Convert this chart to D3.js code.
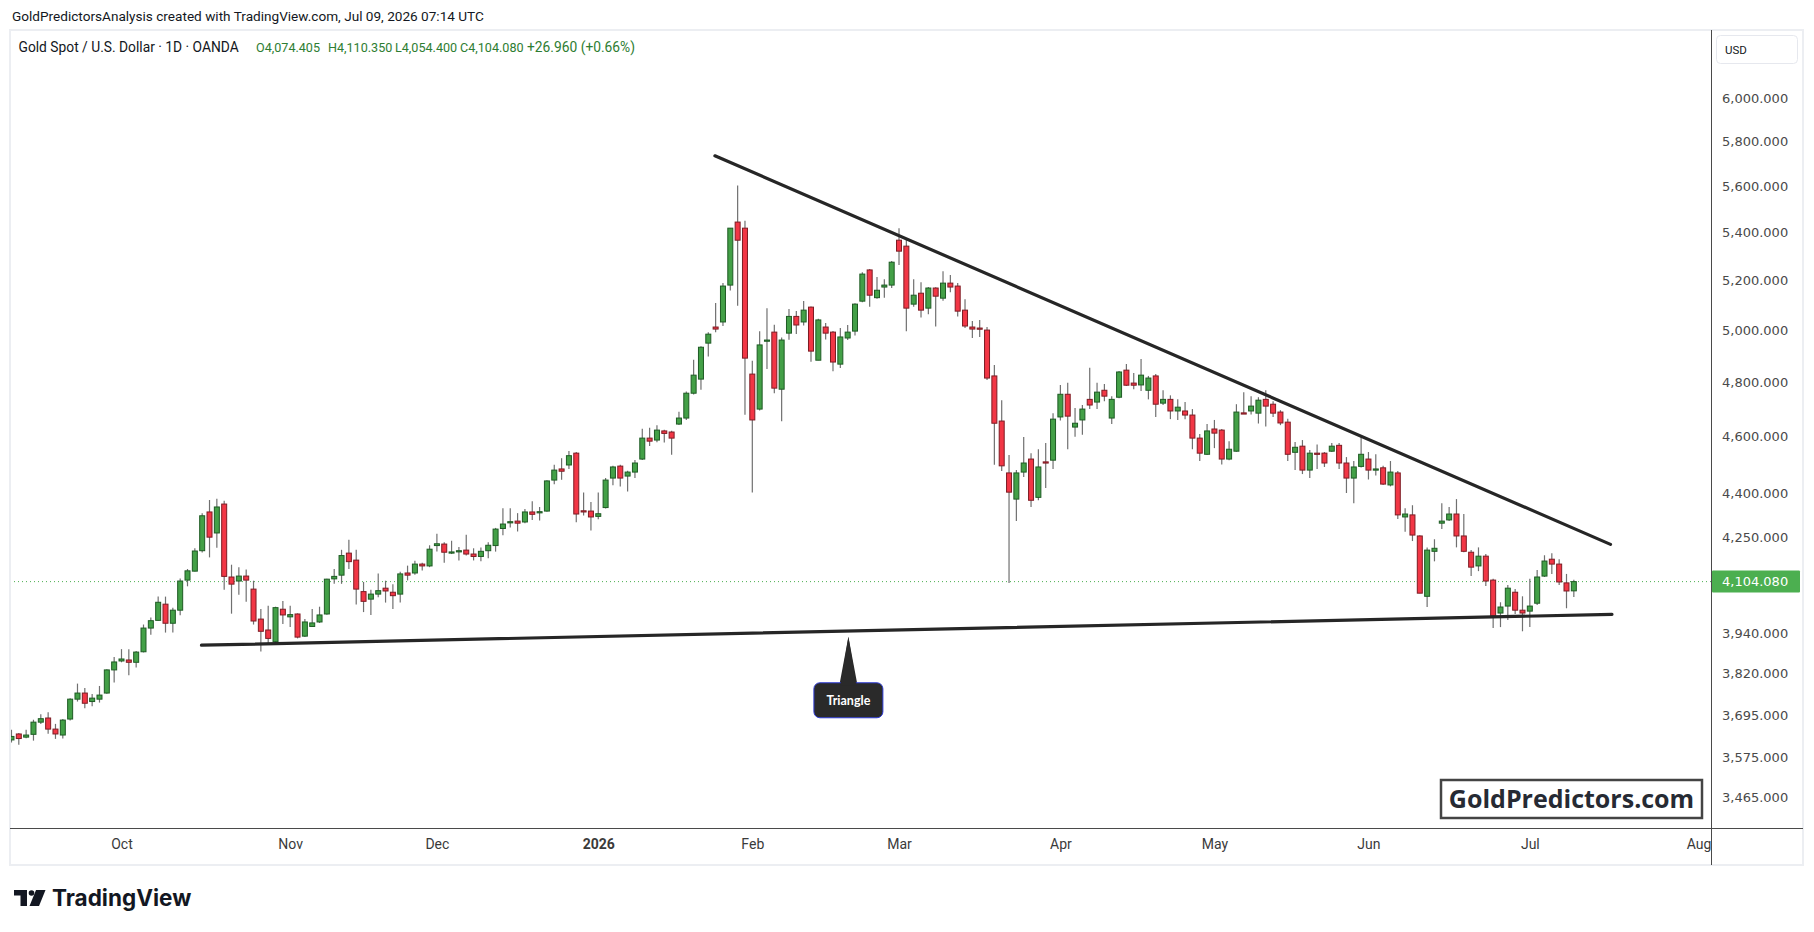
<!DOCTYPE html>
<html>
<head>
<meta charset="utf-8">
<script src="https://cdn.jsdelivr.net/npm/d3@7"></script>
<style>
  body { margin: 0; background: #fff; }
  svg { display: block; }
</style>
</head>
<body>
<svg id="chart" width="1814" height="932"></svg>
<script>
// daily candles, mid Sep 2025 -> Jul 09 2026, one entry per trading day (bar index)
const opens = [3624,3641,3632,3640,3675,3687,3655,3638,3684,3742,3760,3735,3742,3760,3829,
  3856,3859,3852,3884,3957,3981,4032,3972,4013,4109,4138,4205,4335,4264,4362,4119,4106,4122,4080,3985,3951,3915,4016,
  3992,4001,3932,3962,3976,4001,4113,4125,4197,4174,4072,4048,4064,4083,4070,4064,4132,4132,4161,4155,
  4222,4227,4198,4202,4207,4194,4186,4205,4222,4279,4300,4304,4301,4335,4333,4338,4445,4484,4498,4540,4339,4338,
  4320,4350,4452,4494,4459,4473,4519,4594,4587,4620,4616,4645,4667,4759,4812,4950,5013,5033,5181,5444,5418,
  4831,4700,4958,4993,4774,4989,5055,5033,5092,4884,5013,4993,4869,4970,4997,5116,5243,5130,5173,5181,
  5367,5342,5104,5148,5088,5169,5128,5189,5177,5080,5013,5009,5001,4824,4656,4470,4379,4473,4519,4385,4509,4515,
  4671,4755,4634,4660,4736,4726,4770,4667,4744,4846,4797,4790,4770,4824,4722,4736,4693,4693,4678,4594,4536,
  4627,4623,4519,4547,4686,4693,4685,4736,4718,4689,4652,4543,4565,4480,4540,4540,4547,4568,4505,4452,4493,
  4519,4480,4488,4428,4470,4318,4325,4254,4057,4203,4297,4308,4328,4254,4200,4155,4187,4109,4004,4026,4070,4013,
  4010,4035,4122,4177,4161,4100,4074.405];
const highs = [3653,3644,3653,3682,3698,3704,3670,3684,3745,3788,3775,3757,3781,3831,3868,
  3892,3892,3886,3968,3990,4056,4056,4021,4114,4145,4213,4331,4376,4380,4373,4159,4151,4143,4107,4017,4027,4024,4042,
  4027,4003,3985,4017,4024,4113,4145,4208,4241,4208,4103,4078,4130,4107,4096,4136,4156,4172,4165,4223,
  4261,4233,4238,4217,4258,4213,4216,4233,4281,4348,4348,4331,4345,4372,4352,4444,4499,4522,4548,4544,4402,4369,
  4402,4452,4495,4499,4478,4516,4628,4632,4641,4624,4621,4690,4765,4886,4938,4992,5109,5189,5418,5603,5450,
  4882,4996,5088,5022,4972,5085,5077,5117,5095,5046,5029,4997,5009,5021,5108,5234,5247,5214,5205,5280,
  5418,5376,5205,5193,5173,5172,5238,5222,5189,5124,5037,5041,5013,4866,4733,4533,4480,4598,4540,4554,4576,4685,
  4790,4798,4704,4715,4855,4798,4794,4748,4843,4869,4835,4889,4824,4831,4770,4751,4736,4726,4700,4609,4645,
  4660,4627,4583,4718,4763,4748,4744,4770,4729,4696,4664,4580,4587,4551,4571,4544,4576,4576,4526,4512,4599,
  4544,4536,4495,4512,4477,4348,4358,4256,4216,4243,4365,4352,4379,4328,4207,4216,4194,4113,4038,4093,4080,4057,
  4113,4142,4190,4197,4177,4129,4110.35];
const lows = [3617,3610,3629,3622,3670,3642,3627,3628,3680,3735,3715,3721,3732,3758,3791,
  3852,3813,3836,3882,3936,3980,3943,3943,3997,4089,4137,4199,4183,4215,4078,4002,4062,4040,3968,3885,3905,3910,3970,
  3960,3925,3929,3960,3973,3999,4097,4097,4145,4031,4007,3998,4054,4037,4017,4037,4108,4126,4140,4151,
  4202,4165,4194,4173,4189,4173,4170,4180,4202,4256,4282,4269,4297,4308,4306,4336,4430,4446,4484,4300,4323,4272,
  4310,4347,4427,4423,4405,4452,4516,4566,4579,4578,4534,4642,4660,4754,4772,4898,4992,5017,5159,5098,4679,
  4402,4695,4850,4759,4655,4963,4986,5019,4878,4884,4964,4842,4854,4962,4980,5112,5094,5126,5130,5169,
  5263,4996,5094,5051,5064,5015,5118,5152,5055,5009,4970,4974,4809,4499,4477,4100,4304,4456,4352,4375,4417,4484,
  4658,4554,4599,4606,4700,4700,4729,4645,4740,4786,4774,4767,4736,4671,4715,4663,4660,4663,4554,4512,4533,
  4558,4500,4515,4545,4683,4680,4647,4636,4671,4641,4512,4480,4466,4452,4484,4491,4544,4484,4400,4365,4489,
  4447,4461,4428,4423,4311,4268,4237,4067,4023,4170,4277,4304,4216,4200,4122,4138,4090,3957,3960,3982,4001,3947,
  3960,4029,4119,4129,4093,4019,4054.4];
const closes = [3634,3628,3638,3675,3685,3655,3641,3681,3742,3760,3730,3745,3754,3829,3853,
  3862,3852,3883,3957,3980,4038,3972,4013,4106,4139,4204,4322,4250,4352,4121,4096,4122,4109,3979,3947,3925,4021,3998,
  3999,3929,3976,3973,3998,4112,4121,4189,4169,4080,4041,4064,4075,4074,4059,4129,4125,4161,4155,4210,
  4228,4200,4201,4205,4194,4186,4203,4223,4277,4294,4302,4297,4335,4327,4336,4442,4480,4476,4531,4328,4336,4318,
  4329,4445,4491,4452,4473,4505,4594,4583,4623,4611,4594,4667,4759,4827,4934,4985,5005,5177,5418,5367,4892,
  4660,4943,4962,4778,4962,5055,5021,5080,4919,5041,4989,4877,4974,4993,5104,5226,5140,5160,5181,5275,
  5321,5088,5140,5080,5169,5136,5189,5173,5076,5017,5005,5005,4816,4648,4495,4403,4470,4505,4375,4491,4507,4663,
  4755,4674,4648,4700,4715,4763,4748,4736,4839,4789,4789,4827,4816,4718,4736,4693,4707,4678,4594,4540,4620,
  4612,4519,4554,4689,4684,4711,4733,4711,4685,4649,4536,4561,4480,4540,4539,4505,4565,4505,4452,4491,4536,
  4480,4484,4431,4473,4325,4328,4257,4067,4207,4213,4304,4328,4254,4203,4151,4187,4106,3995,4023,4083,4013,4004,
  4026,4119,4171,4161,4103,4074,4104.08];

// time axis labels and the bar they sit on
const monthLabels = ["Oct", "Nov", "Dec", "2026", "Feb", "Mar", "Apr", "May", "Jun", "Jul", "Aug"];
const monthBars = [15, 38, 58, 80, 101, 121, 143, 164, 185, 207, 230];

// price axis labels
const priceTicks = [6000, 5800, 5600, 5400, 5200, 5000, 4800, 4600, 4400, 4250, 3940, 3820, 3695, 3575, 3465];
const lastPrice = 4104.08;

// legend values (last bar)
const legendKeys = ["O", "H", "L", "C"];
const legendVals = ["4,074.405", "4,110.350", "4,054.400", "4,104.080"];
const legendChange = "+26.960 (+0.66%)";

// drawings: [bar, price]
const upperLine = [[95.9, 5735], [218.0, 4226]];
const lowerLine = [[25.9, 3904], [218.2, 4000]];
const calloutTip = [114.1, 3930];

const svg = d3.select('#chart');
const W = 1814, H = 932;
const plot = { left: 10, right: 1711, top: 31, bottom: 828 };

const x = d3.scaleLinear().domain([-0.2, 231.7]).range([plot.left, plot.right]);
const y = d3.scaleLog().domain([3381.7, 6325.9]).range([plot.bottom, plot.top]);

const upFill = '#43a047', upLine = '#1e5b24';
const dnFill = '#f23645', dnLine = '#7d1c24';
const legendGreen = '#2e7d32';

svg.append('rect').attr('width', W).attr('height', H).attr('fill', '#ffffff');

// top caption
svg.append('text')
  .attr('x', 12).attr('y', 21)
  .style('font', '13.6px Roboto, "Open Sans", sans-serif')
  .attr('fill', '#131722')
  .text('GoldPredictorsAnalysis created with TradingView.com, Jul 09, 2026 07:14 UTC');

// pane frame
svg.append('rect')
  .attr('x', 10).attr('y', 30).attr('width', 1793).attr('height', 835)
  .attr('fill', 'none').attr('stroke', '#eceef2').attr('stroke-width', 2);

svg.append('clipPath').attr('id', 'plotClip')
  .append('rect').attr('x', plot.left + 1).attr('y', plot.top)
  .attr('width', plot.right - plot.left - 1).attr('height', plot.bottom - plot.top);

const g = svg.append('g').attr('clip-path', 'url(#plotClip)');

// last price dotted line
g.append('line')
  .attr('x1', plot.left).attr('x2', plot.right)
  .attr('y1', y(lastPrice)).attr('y2', y(lastPrice))
  .attr('stroke', '#4caf50').attr('stroke-width', 1).attr('stroke-dasharray', '1,3');

const bars = d3.range(opens.length).map(i => ({ i: i, o: opens[i], h: highs[i], l: lows[i], c: closes[i] }));

// wicks
g.selectAll('.wick')
  .data(bars)
  .enter()
  .append('line')
  .classed('wick', true)
  .attr('x1', d => x(d.i)).attr('x2', d => x(d.i))
  .attr('y1', d => y(d.h)).attr('y2', d => y(d.l))
  .attr('stroke', '#707070').attr('stroke-width', 1.2);

// bodies
g.selectAll('.body')
  .data(bars)
  .enter()
  .append('rect')
  .classed('body', true)
  .attr('x', d => x(d.i) - 2.5)
  .attr('width', 5)
  .attr('y', d => y(Math.max(d.o, d.c)))
  .attr('height', d => Math.max(1.2, Math.abs(y(d.o) - y(d.c))))
  .attr('fill', d => d.c >= d.o ? upFill : dnFill)
  .attr('stroke', d => d.c >= d.o ? upLine : dnLine)
  .attr('stroke-width', 1);

// triangle trend lines
[upperLine, lowerLine].forEach(ln => {
  g.append('line')
    .attr('x1', x(ln[0][0])).attr('y1', y(ln[0][1]))
    .attr('x2', x(ln[1][0])).attr('y2', y(ln[1][1]))
    .attr('stroke', '#262626').attr('stroke-width', 3.2).attr('stroke-linecap', 'round');
});

// "Triangle" callout
const tx = x(calloutTip[0]), ty = y(calloutTip[1]);
const box = { w: 69, h: 35, top: ty + 46 };
const callout = svg.append('g');
callout.append('path')
  .attr('d', `M${tx},${ty} L${tx + 9},${box.top + 2} L${tx - 9},${box.top + 2} Z`)
  .attr('fill', '#2a2a2a');
callout.append('rect')
  .attr('x', tx - box.w / 2).attr('y', box.top)
  .attr('width', box.w).attr('height', box.h).attr('rx', 6)
  .attr('fill', '#2a2a2a').attr('stroke', '#2f3cd6').attr('stroke-width', 1);
callout.append('path')
  .attr('d', `M${tx},${ty} L${tx + 8},${box.top + 3} L${tx - 8},${box.top + 3} Z`)
  .attr('fill', '#2a2a2a');
callout.append('text')
  .attr('x', tx).attr('y', box.top + box.h / 2 + 4.5)
  .attr('text-anchor', 'middle')
  .style('font', 'bold 12.5px Lato, "Open Sans", sans-serif')
  .attr('fill', '#ffffff')
  .text('Triangle');

// GoldPredictors.com stamp
svg.append('rect')
  .attr('x', 1441).attr('y', 780).attr('width', 261).attr('height', 38)
  .attr('fill', '#ffffff').attr('stroke', '#444444').attr('stroke-width', 2.5);
svg.append('text')
  .attr('x', 1571.5).attr('y', 808)
  .attr('text-anchor', 'middle')
  .style('font', 'bold 25px "Open Sans", Lato, sans-serif')
  .attr('fill', '#262a33')
  .text('GoldPredictors.com');

// legend row
svg.append('text')
  .attr('x', 18.5).attr('y', 52)
  .style('font', '13.8px Roboto, "Open Sans", sans-serif')
  .attr('fill', '#131722')
  .text('Gold Spot / U.S. Dollar · 1D · OANDA');
const legendX = [256, 328, 395, 460];
legendKeys.forEach((k, i) => {
  svg.append('text')
    .attr('x', legendX[i]).attr('y', 52)
    .style('font', '12.6px Roboto, "Open Sans", sans-serif')
    .attr('fill', legendGreen)
    .text(k + legendVals[i]);
});
svg.append('text')
  .attr('x', 527).attr('y', 52)
  .style('font', '13.8px Roboto, "Open Sans", sans-serif')
  .attr('fill', legendGreen)
  .text(legendChange);

// axis frame lines
svg.append('line').attr('x1', plot.right + 0.5).attr('x2', plot.right + 0.5)
  .attr('y1', 30).attr('y2', 865).attr('stroke', '#4a4a4a').attr('stroke-width', 1);
svg.append('line').attr('x1', 10).attr('x2', 1803)
  .attr('y1', plot.bottom + 0.5).attr('y2', plot.bottom + 0.5).attr('stroke', '#4a4a4a').attr('stroke-width', 1);

// price axis
const yAxis = d3.axisRight(y)
  .tickValues(priceTicks)
  .tickSize(0)
  .tickPadding(11)
  .tickFormat(d3.format(',.3f'));
const yg = svg.append('g').attr('transform', `translate(${plot.right},0)`).call(yAxis);
yg.select('.domain').remove();
yg.selectAll('text')
  .style('font', '13px "DejaVu Sans", Verdana, sans-serif')
  .attr('fill', '#4a4a4a');

// USD badge
svg.append('rect')
  .attr('x', 1716.5).attr('y', 35.5).attr('width', 81).attr('height', 28).attr('rx', 4)
  .attr('fill', '#ffffff').attr('stroke', '#e6e8ee');
svg.append('text')
  .attr('x', 1725).attr('y', 53.5)
  .style('font', '11.5px Roboto, sans-serif')
  .attr('fill', '#131722')
  .text('USD');

// last price badge
svg.append('rect')
  .attr('x', plot.right + 1).attr('y', y(lastPrice) - 11).attr('width', 88).attr('height', 22).attr('rx', 1)
  .attr('fill', '#4caf50');
svg.append('text')
  .attr('x', plot.right + 11).attr('y', y(lastPrice) + 4.5)
  .style('font', '13px "DejaVu Sans", Verdana, sans-serif')
  .attr('fill', '#ffffff')
  .text(d3.format(',.3f')(lastPrice));

// time axis (clip rect is in the axis group's own coordinates)
svg.append('clipPath').attr('id', 'timeClip')
  .append('rect').attr('x', plot.left).attr('y', 0).attr('width', plot.right - plot.left).attr('height', 36);
const xAxis = d3.axisBottom(x)
  .tickValues(monthBars)
  .tickSize(0)
  .tickPadding(11)
  .tickFormat((d, i) => monthLabels[i]);
const xg = svg.append('g')
  .attr('transform', `translate(0,${plot.bottom})`)
  .attr('clip-path', 'url(#timeClip)')
  .call(xAxis);
xg.select('.domain').remove();
xg.selectAll('text')
  .style('font', '14px Roboto, sans-serif')
  .style('font-weight', (d, i) => monthLabels[i] === '2026' ? 'bold' : 'normal')
  .attr('fill', '#3a3a3a');

// TradingView footer
const logo = svg.append('g').attr('fill', '#131722');
logo.append('path').attr('d', 'M14,890 H27 V906 H20.5 V895.5 H14 Z');
logo.append('circle').attr('cx', 31.5).attr('cy', 893).attr('r', 2.8);
logo.append('path').attr('d', 'M36,890 H45.5 L39,906 H29.5 Z');
svg.append('text')
  .attr('x', 52).attr('y', 906)
  .style('font', 'bold 22.5px Inter, Roboto, sans-serif')
  .attr('fill', '#131722')
  .text('TradingView');
</script>
</body>
</html>
